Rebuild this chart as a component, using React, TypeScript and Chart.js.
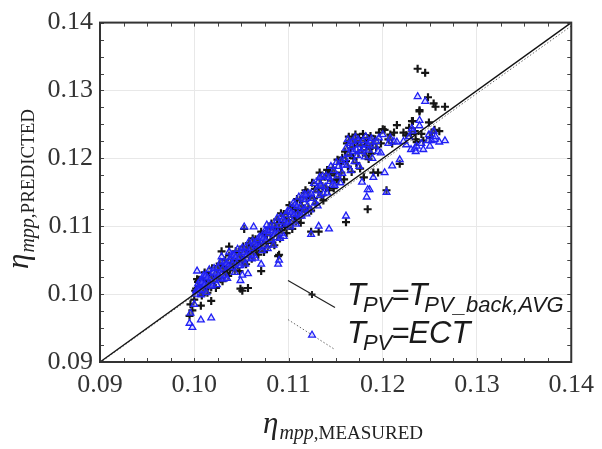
import { useEffect, useRef } from "react";
import { Chart, registerables } from "chart.js";

Chart.register(...registerables);

// ---- axis ticks ----
const axisTicks = [0.09, 0.1, 0.11, 0.12, 0.13, 0.14];
const axisMin = 0.09;
const axisMax = 0.14;
const minorStep = 0.0025;

// ---- data: measured efficiency (shared x) and the two predicted efficiencies ----
const measured = [
  // low-left edge
  0.0995, 0.0998, 0.0996, 0.1, 0.1002, 0.1005, 0.1007, 0.1003, 0.1008, 0.101, 0.1001, 0.1004,
  // band 0.1005 - 0.1039
  0.1005, 0.1006, 0.1007, 0.1008, 0.1009, 0.101, 0.1011, 0.1012, 0.1013, 0.1014,
  0.1015, 0.1016, 0.1017, 0.1018, 0.1019, 0.102, 0.1021, 0.1022, 0.1023, 0.1024,
  0.1025, 0.1026, 0.1027, 0.1028, 0.1029, 0.103, 0.1031, 0.1032, 0.1033, 0.1034,
  0.1035, 0.1036, 0.1037, 0.1038, 0.1039,
  // band 0.1040 - 0.1079
  0.104, 0.1041, 0.1042, 0.1043, 0.1044, 0.1045, 0.1046, 0.1047, 0.1048, 0.1049,
  0.105, 0.1051, 0.1052, 0.1053, 0.1054, 0.1055, 0.1056, 0.1057, 0.1058, 0.1059,
  0.106, 0.1061, 0.1062, 0.1063, 0.1064, 0.1065, 0.1066, 0.1067, 0.1068, 0.1069,
  0.107, 0.1071, 0.1072, 0.1073, 0.1074, 0.1075, 0.1076, 0.1077, 0.1078, 0.1079,
  // band 0.1080 - 0.1119
  0.108, 0.1081, 0.1082, 0.1083, 0.1084, 0.1085, 0.1086, 0.1087, 0.1088, 0.1089,
  0.109, 0.1091, 0.1092, 0.1093, 0.1094, 0.1095, 0.1096, 0.1097, 0.1098, 0.1099,
  0.11, 0.1101, 0.1102, 0.1103, 0.1104, 0.1105, 0.1106, 0.1107, 0.1108, 0.1109,
  0.111, 0.1111, 0.1112, 0.1113, 0.1114, 0.1115, 0.1116, 0.1117, 0.1118, 0.1119,
  // band 0.1120 - 0.1159
  0.112, 0.1121, 0.1123, 0.1124, 0.1125, 0.1127, 0.1128, 0.1129, 0.1131, 0.1132,
  0.1133, 0.1135, 0.1136, 0.1137, 0.1139, 0.114, 0.1141, 0.1143, 0.1144, 0.1145,
  0.1147, 0.1148, 0.1149, 0.1151, 0.1152, 0.1153, 0.1155, 0.1156, 0.1157, 0.1159,
  // upper cluster 0.116 - 0.122
  0.116, 0.1161, 0.1162, 0.1163, 0.1164, 0.1165, 0.1166, 0.1167, 0.1168, 0.1169,
  0.117, 0.1171, 0.1172, 0.1173, 0.1174, 0.1175, 0.1176, 0.1177, 0.1178, 0.1179,
  0.118, 0.1181, 0.1182, 0.1183, 0.1184, 0.1185, 0.1186, 0.1187, 0.1188, 0.1189,
  0.119, 0.1192, 0.1193, 0.1195, 0.1196, 0.1198, 0.12, 0.1202, 0.1204, 0.1206,
  0.1208, 0.121, 0.1212, 0.1215, 0.1218,
  // scattered outliers
  0.1018, 0.1049, 0.1051, 0.1057, 0.1053, 0.1029, 0.1037, 0.1063, 0.1077, 0.1071,
  0.1089, 0.109, 0.1118, 0.1124, 0.1132, 0.1133, 0.1134, 0.1143, 0.1161, 0.1184,
  // top right
  0.1222, 0.1225, 0.1228, 0.123, 0.1231, 0.1232, 0.1234, 0.1235, 0.1236, 0.1237,
  0.1239, 0.1239, 0.1241, 0.1243, 0.1245, 0.1248, 0.1249, 0.125, 0.1252, 0.1254,
  0.1255, 0.1256, 0.126, 0.1266,
];

// T_PV = T_PV_back,AVG (black plus)
const predictedBackAvg = [
  0.0968, 0.0976, 0.0985, 0.0992, 0.1008, 0.1012, 0.0983, 0.1022, 0.1015, 0.102, 0.1005, 0.1018,
  0.1021, 0.1005, 0.1014, 0.0998, 0.1021, 0.1013, 0.1032, 0.1007, 0.1021, 0.1002,
  0.1029, 0.1017, 0.1027, 0.101, 0.1038, 0.1024, 0.1018, 0.1037, 0.1009, 0.103,
  0.1038, 0.1026, 0.1045, 0.1022, 0.1038, 0.1019, 0.1042, 0.1034, 0.105, 0.103,
  0.104, 0.1027, 0.1057, 0.1036, 0.1046,
  0.1054, 0.1042, 0.1052, 0.1035, 0.1063, 0.1049, 0.1043, 0.1062, 0.1034, 0.1055,
  0.1063, 0.1051, 0.107, 0.1047, 0.1063, 0.1044, 0.1067, 0.1059, 0.1075, 0.1055,
  0.1065, 0.1052, 0.1082, 0.1061, 0.1071, 0.1081, 0.1065, 0.1074, 0.1058, 0.1081,
  0.1073, 0.1092, 0.1067, 0.1081, 0.1062, 0.1089, 0.1077, 0.1087, 0.107, 0.1098,
  0.1095, 0.108, 0.1104, 0.1076, 0.1095, 0.1072, 0.11, 0.1091, 0.111, 0.1086,
  0.1098, 0.1082, 0.1119, 0.1094, 0.1106, 0.1118, 0.1099, 0.111, 0.109, 0.1119,
  0.1109, 0.1131, 0.1102, 0.1119, 0.1096, 0.1129, 0.1114, 0.1126, 0.1107, 0.114,
  0.1123, 0.1116, 0.1139, 0.1105, 0.113, 0.1141, 0.1126, 0.1149, 0.1122, 0.1141,
  0.115, 0.1128, 0.1143, 0.1123, 0.1164, 0.1141, 0.1155, 0.1133, 0.1156, 0.1151,
  0.117, 0.1145, 0.1159, 0.1138, 0.1173, 0.1156, 0.1183, 0.1153, 0.1175, 0.1167,
  0.1186, 0.1156, 0.1178, 0.1169, 0.1198, 0.1168, 0.1192, 0.1179, 0.1201, 0.1169,
  0.121, 0.1196, 0.1222, 0.1188, 0.1232, 0.1205, 0.1215, 0.118, 0.1228, 0.12,
  0.1218, 0.1235, 0.1193, 0.1224, 0.1208, 0.123, 0.1185, 0.122, 0.1212, 0.1236,
  0.1172, 0.1226, 0.1204, 0.1218, 0.123, 0.1199, 0.1214, 0.1233, 0.1207, 0.1222,
  0.1179, 0.1228, 0.1216, 0.1179, 0.1238, 0.1222, 0.1243, 0.1242, 0.1153, 0.1228,
  0.1235, 0.1222, 0.1238, 0.1249, 0.1192,
  0.099, 0.1008, 0.1005, 0.1009, 0.1096, 0.1063, 0.107, 0.1075, 0.1076, 0.1034,
  0.1056, 0.1058, 0.1153, 0.1092, 0.1092, 0.1179, 0.1169, 0.118, 0.1106, 0.1125,
  0.1238, 0.1234, 0.1245, 0.1236, 0.1255, 0.1255, 0.124, 0.1228, 0.1224, 0.1332,
  0.1269, 0.1271, 0.1236, 0.1226, 0.1326, 0.129, 0.1253, 0.123, 0.1238, 0.1281,
  0.1242, 0.1276, 0.124, 0.1276,
];

// T_PV = ECT (blue triangle)
const predictedEct = [
  0.0957, 0.0951, 0.0972, 0.0985, 0.1005, 0.101, 0.0962, 0.1034, 0.1012, 0.1025, 0.1, 0.1015,
  0.1006, 0.1019, 0.0999, 0.1017, 0.1006, 0.1028, 0.1014, 0.1027, 0.1002, 0.1024,
  0.1015, 0.1036, 0.1012, 0.1024, 0.1012, 0.1032, 0.1038, 0.102, 0.1031, 0.1014,
  0.1039, 0.1028, 0.1023, 0.1047, 0.1028, 0.1037, 0.1022, 0.1048, 0.1027, 0.1045,
  0.1023, 0.1041, 0.105, 0.1039, 0.1054,
  0.1058, 0.1044, 0.1057, 0.1032, 0.1054, 0.1045, 0.1066, 0.1042, 0.1054, 0.1042,
  0.1062, 0.1068, 0.105, 0.1061, 0.1044, 0.1069, 0.1058, 0.1053, 0.1077, 0.1058,
  0.1067, 0.1052, 0.1078, 0.1057, 0.1075, 0.1053, 0.1071, 0.108, 0.1069, 0.1084,
  0.1071, 0.1084, 0.1064, 0.1082, 0.1071, 0.1093, 0.1079, 0.1092, 0.1067, 0.1089,
  0.1094, 0.1101, 0.108, 0.1093, 0.1072, 0.1102, 0.109, 0.1083, 0.1112, 0.109,
  0.1101, 0.1082, 0.1114, 0.1089, 0.111, 0.1085, 0.1106, 0.1117, 0.1103, 0.1122,
  0.1106, 0.1122, 0.1099, 0.112, 0.1107, 0.1134, 0.1117, 0.1132, 0.1103, 0.1129,
  0.1118, 0.1143, 0.1115, 0.1129, 0.1115, 0.114, 0.1147, 0.1125, 0.1139, 0.1118,
  0.113, 0.1148, 0.1124, 0.1148, 0.1141, 0.1163, 0.1134, 0.1152, 0.113, 0.1166,
  0.1145, 0.1159, 0.1173, 0.1148, 0.1158, 0.1174, 0.1149, 0.1172, 0.1166, 0.1188,
  0.1162, 0.1182, 0.116, 0.1194, 0.1174, 0.1188, 0.1164, 0.1197, 0.1178, 0.119,
  0.12, 0.1215, 0.119, 0.1228, 0.1206, 0.1222, 0.1182, 0.1217, 0.1225, 0.121,
  0.1195, 0.1231, 0.1213, 0.1204, 0.1227, 0.1188, 0.122, 0.121, 0.1165, 0.1226,
  0.1214, 0.1202, 0.1232, 0.1143, 0.122, 0.1212, 0.1154, 0.1224, 0.1229, 0.12,
  0.1172, 0.1218, 0.1225, 0.121, 0.123, 0.1208, 0.1235, 0.1179, 0.115, 0.1222,
  0.123, 0.1189, 0.1225, 0.1224, 0.1198,
  0.0965, 0.102, 0.1028, 0.103, 0.1099, 0.1055, 0.1062, 0.1099, 0.1102, 0.1044,
  0.1044, 0.105, 0.1146, 0.1088, 0.11, 0.1172, 0.116, 0.1096, 0.1115, 0.1154,
  0.1225, 0.122, 0.1232, 0.1213, 0.1244, 0.124, 0.1215, 0.121, 0.1218, 0.1291,
  0.1256, 0.1248, 0.1222, 0.1213, 0.1284, 0.1226, 0.1235, 0.1218, 0.1226, 0.124,
  0.1228, 0.1232, 0.1224, 0.1226,
];

// reference lines: [x, y]
const identityLine = [
  [0.09, 0.09],
  [0.14, 0.14],
];
const ectFitLine = [
  [0.09, 0.0899],
  [0.14, 0.1395],
];

const SERIF = "'Liberation Serif', 'Times New Roman', serif";
const SANS = "'Liberation Sans', Arial, sans-serif";
const BLUE = "#2020f5";

type Run = { text: string; font: string; dy?: number; kern?: number };

function drawRuns(ctx: CanvasRenderingContext2D, runs: Run[], x: number, y: number) {
  let cx = x;
  for (const r of runs) {
    cx += r.kern || 0;
    ctx.font = r.font;
    ctx.fillText(r.text, cx, y + (r.dy || 0));
    cx += ctx.measureText(r.text).width;
  }
}

const decorPlugin = {
  id: "decor",
  afterDatasetsDraw(chart: any) {
    const { ctx, chartArea: a, scales } = chart;
    const sx = scales.x;
    const sy = scales.y;
    ctx.save();
    // inner ticks on all four sides
    ctx.strokeStyle = "#444";
    ctx.lineWidth = 1;
    const n = Math.round((axisMax - axisMin) / minorStep);
    ctx.beginPath();
    for (let i = 0; i <= n; i++) {
      const v = axisMin + i * minorStep;
      const px = Math.round(sx.getPixelForValue(v)) + 0.5;
      const py = Math.round(sy.getPixelForValue(v)) + 0.5;
      ctx.moveTo(px, a.top);
      ctx.lineTo(px, a.top + 4);
      ctx.moveTo(px, a.bottom);
      ctx.lineTo(px, a.bottom - 4);
      ctx.moveTo(a.left, py);
      ctx.lineTo(a.left + 4, py);
      ctx.moveTo(a.right, py);
      ctx.lineTo(a.right - 4, py);
    }
    ctx.stroke();
    // frame
    ctx.strokeStyle = "#333";
    ctx.lineWidth = 2;
    ctx.strokeRect(a.left, a.top, a.right - a.left, a.bottom - a.top);

    // axis titles
    ctx.fillStyle = "#222";
    ctx.textBaseline = "alphabetic";
    ctx.textAlign = "left";
    drawRuns(
      ctx,
      [
        { text: "\u03B7", font: `italic 31px ${SERIF}`, dy: -6 },
        { text: "mpp", font: `italic 20px ${SERIF}`, kern: 1 },
        { text: ",MEASURED", font: `19px ${SERIF}` },
      ],
      263,
      439
    );
    ctx.save();
    ctx.translate(34, 269);
    ctx.rotate(-Math.PI / 2);
    drawRuns(
      ctx,
      [
        { text: "\u03B7", font: `italic 31px ${SERIF}`, dy: -6 },
        { text: "mpp", font: `italic 20px ${SERIF}`, kern: 1 },
        { text: ",PREDICTED", font: `19px ${SERIF}` },
      ],
      0,
      0
    );
    ctx.restore();

    // legend samples
    const lx0 = a.left + 188;
    const lx1 = a.left + 235;
    ctx.strokeStyle = "#222";
    ctx.lineWidth = 1.2;
    ctx.beginPath();
    ctx.moveTo(lx0, a.top + 258);
    ctx.lineTo(lx1, a.top + 285);
    ctx.stroke();
    ctx.lineWidth = 2;
    ctx.beginPath();
    ctx.moveTo(a.left + 212 - 3.5, a.top + 272);
    ctx.lineTo(a.left + 212 + 3.5, a.top + 272);
    ctx.moveTo(a.left + 212, a.top + 272 - 3.5);
    ctx.lineTo(a.left + 212, a.top + 272 + 3.5);
    ctx.stroke();

    ctx.strokeStyle = "#666";
    ctx.lineWidth = 1;
    ctx.setLineDash([1.5, 2]);
    ctx.beginPath();
    ctx.moveTo(lx0, a.top + 297);
    ctx.lineTo(lx1, a.top + 327);
    ctx.stroke();
    ctx.setLineDash([]);
    const tx = a.left + 212;
    const ty = a.top + 312;
    ctx.strokeStyle = BLUE;
    ctx.fillStyle = "rgba(215,215,255,0.8)";
    ctx.lineWidth = 1.2;
    ctx.beginPath();
    ctx.moveTo(tx, ty - 3.5);
    ctx.lineTo(tx + 3.5, ty + 2.5);
    ctx.lineTo(tx - 3.5, ty + 2.5);
    ctx.closePath();
    ctx.fill();
    ctx.stroke();

    // legend text
    ctx.fillStyle = "#1a1a1a";
    const big = `italic 31px ${SANS}`;
    const sub = `italic 22px ${SANS}`;
    drawRuns(
      ctx,
      [
        { text: "T", font: big },
        { text: "PV", font: sub, dy: 7, kern: -3 },
        { text: "=", font: big, kern: -1 },
        { text: "T", font: big, kern: -1 },
        { text: "PV_back,AVG", font: sub, dy: 7, kern: -3 },
      ],
      a.left + 247,
      a.top + 282
    );
    drawRuns(
      ctx,
      [
        { text: "T", font: big },
        { text: "PV", font: sub, dy: 7, kern: -3 },
        { text: "=", font: big, kern: -1 },
        { text: "ECT", font: big, kern: -1 },
      ],
      a.left + 247,
      a.top + 320
    );
    ctx.restore();
  },
};

export default function App() {
  const ref = useRef<HTMLCanvasElement>(null);
  useEffect(() => {
    if (!ref.current) return;
    const tickFont = { family: SERIF, size: 26 };
    const chart = new Chart(ref.current, {
      type: "scatter",
      data: {
        datasets: [
          {
            label: "y = x",
            type: "line",
            data: identityLine.map(([x, y]) => ({ x, y })),
            borderColor: "#111",
            borderWidth: 1.3,
            pointRadius: 0,
            showLine: true,
            order: 0,
          } as any,
          {
            label: "ECT fit",
            type: "line",
            data: ectFitLine.map(([x, y]) => ({ x, y })),
            borderColor: "#666",
            borderWidth: 1,
            borderDash: [1.5, 2],
            pointRadius: 0,
            showLine: true,
            order: 0,
          } as any,
          {
            label: "T_PV=ECT",
            data: measured.map((x, i) => ({ x, y: predictedEct[i] })),
            pointStyle: "triangle",
            pointRadius: 3.9,
            borderColor: BLUE,
            backgroundColor: "rgba(140,140,255,0.3)",
            borderWidth: 1.3,
            order: 1,
          },
          {
            label: "T_PV=T_PV_back,AVG",
            data: measured.map((x, i) => ({ x, y: predictedBackAvg[i] })),
            pointStyle: "cross",
            pointRadius: 4,
            borderColor: "#151515",
            borderWidth: 2.2,
            order: 2,
          },
        ],
      },
      options: {
        responsive: false,
        devicePixelRatio: 1,
        animation: false,
        events: [],
        layout: { padding: { top: 18, right: 28, left: 0, bottom: 0 } },
        plugins: { legend: { display: false }, tooltip: { enabled: false } },
        scales: {
          x: {
            type: "linear",
            min: axisMin,
            max: axisMax,
            afterBuildTicks: (s: any) => {
              s.ticks = axisTicks.map((v) => ({ value: v }));
            },
            afterFit: (s: any) => {
              s.height = 87;
            },
            ticks: {
              callback: (v: any) => Number(v).toFixed(2),
              font: tickFont,
              color: "#333",
              padding: 8,
              maxRotation: 0,
              autoSkip: false,
            },
            grid: { color: "#e8e8e8", lineWidth: 1, drawTicks: false },
            border: { display: false },
          },
          y: {
            type: "linear",
            min: axisMin,
            max: axisMax,
            afterBuildTicks: (s: any) => {
              s.ticks = axisTicks.map((v) => ({ value: v }));
            },
            afterFit: (s: any) => {
              s.width = 100;
            },
            ticks: {
              callback: (v: any) => Number(v).toFixed(2),
              font: tickFont,
              color: "#333",
              padding: 7,
              autoSkip: false,
            },
            grid: { color: "#e8e8e8", lineWidth: 1, drawTicks: false },
            border: { display: false },
          },
        },
      } as any,
      plugins: [decorPlugin],
    });
    return () => chart.destroy();
  }, []);
  return (
    <div style={{ position: "absolute", left: 0, top: 0, width: 602, height: 449, background: "#fff" }}>
      <canvas ref={ref} width={602} height={449} style={{ display: "block" }} />
    </div>
  );
}
